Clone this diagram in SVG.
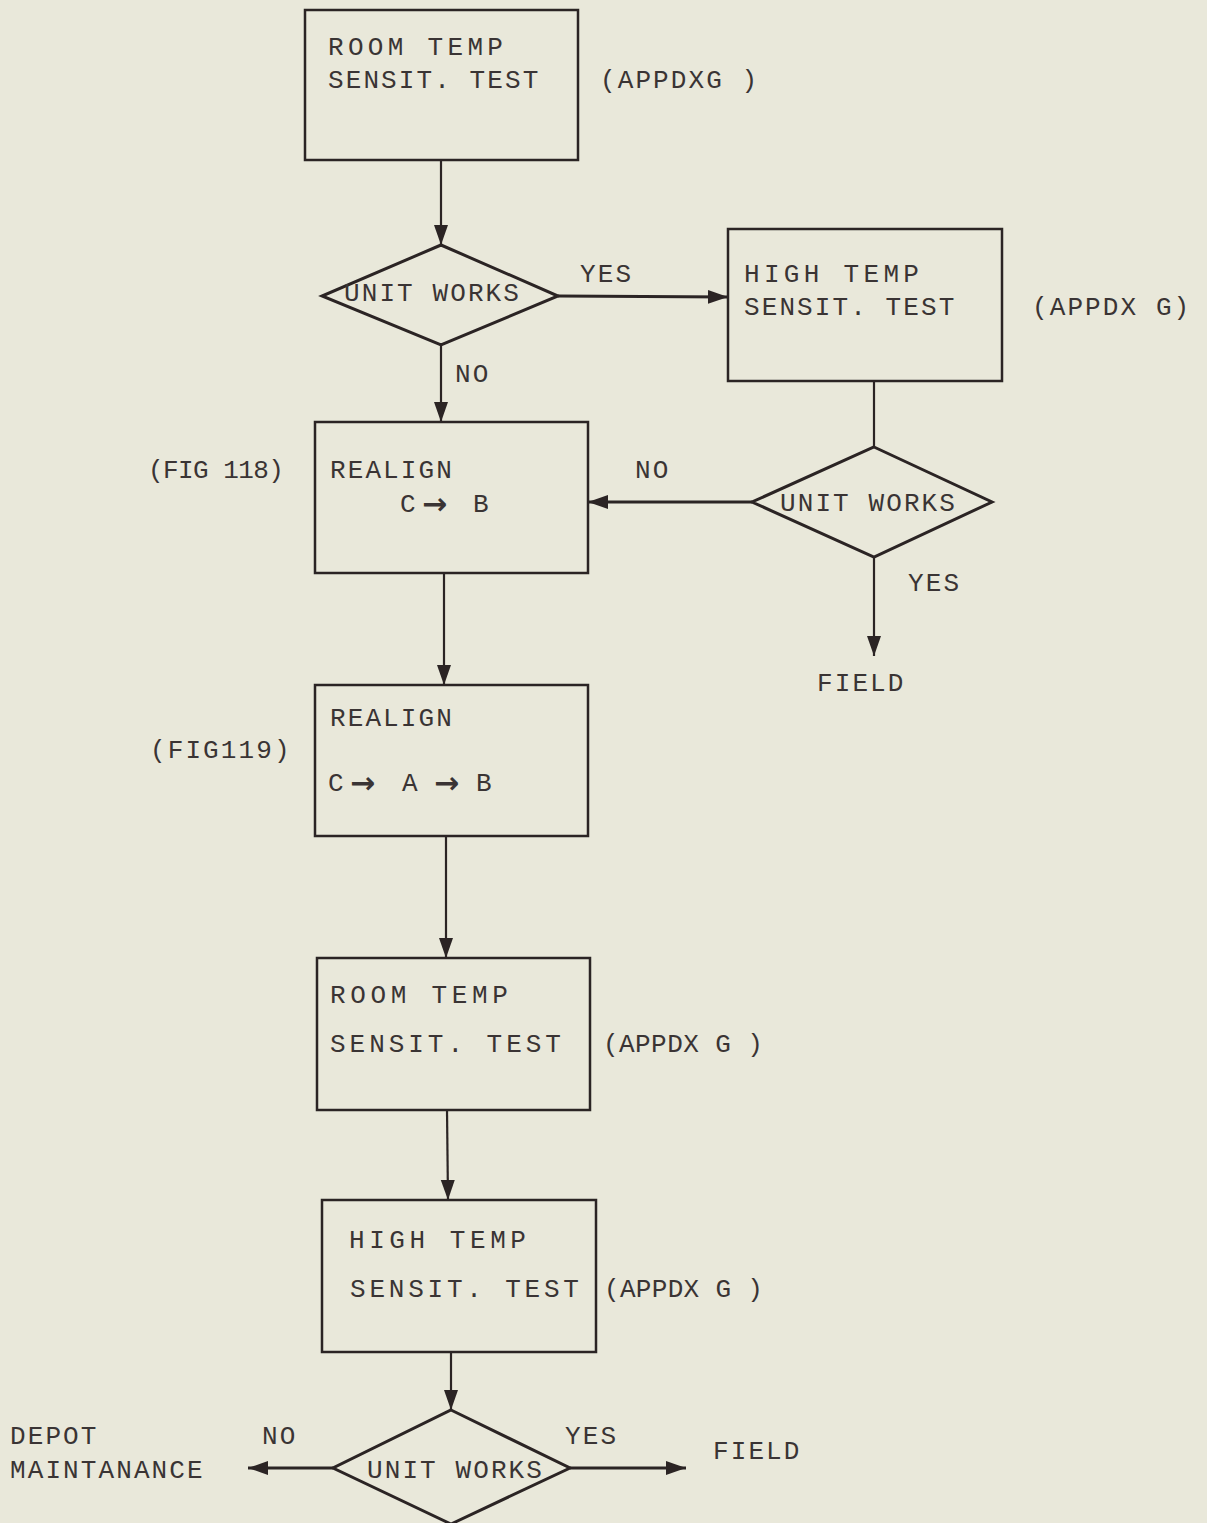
<svg xmlns="http://www.w3.org/2000/svg" width="1207" height="1523" viewBox="0 0 1207 1523" xml:space="preserve">
<style>
  .bg { fill: #e9e8da; }
  .box { fill: none; stroke: #2b2424; stroke-width: 2.5; }
  .dia { fill: none; stroke: #2b2424; stroke-width: 3; stroke-linejoin: miter; }
  .con { fill: none; stroke: #2b2424; stroke-width: 2.2; }
  .conb { fill: none; stroke: #2b2424; stroke-width: 3; }
  text { font-family: "Liberation Mono", "DejaVu Sans Mono", monospace; font-size: 26px; fill: #3a3434; letter-spacing: 2.1px; }
  .arr { font-family: "DejaVu Sans", sans-serif; font-size: 30px; letter-spacing: 0; font-weight: bold; }
</style>
<defs>
  <marker id="ah" viewBox="0 0 20 16" refX="20" refY="8" markerWidth="20" markerHeight="16" markerUnits="userSpaceOnUse" orient="auto">
    <path d="M0,1 L20,8 L0,15 Z" fill="#2b2424"/>
  </marker>
</defs>
<rect class="bg" x="0" y="0" width="1207" height="1523"/>

<g id="connectors">
  <line class="con" x1="441" y1="160" x2="441" y2="245" marker-end="url(#ah)"/>
  <line class="conb" x1="558" y1="296" x2="728" y2="297" marker-end="url(#ah)"/>
  <line class="con" x1="441" y1="345" x2="441" y2="422" marker-end="url(#ah)"/>
  <line class="con" x1="874" y1="381" x2="874" y2="447"/>
  <line class="conb" x1="752" y1="502" x2="588" y2="502" marker-end="url(#ah)"/>
  <line class="con" x1="874" y1="557" x2="874" y2="656" marker-end="url(#ah)"/>
  <line class="con" x1="444" y1="573" x2="444" y2="685" marker-end="url(#ah)"/>
  <line class="con" x1="446" y1="836" x2="446" y2="958" marker-end="url(#ah)"/>
  <line class="con" x1="447" y1="1110" x2="448" y2="1200" marker-end="url(#ah)"/>
  <line class="con" x1="451" y1="1352" x2="451" y2="1410" marker-end="url(#ah)"/>
  <line class="conb" x1="333" y1="1468" x2="248" y2="1468" marker-end="url(#ah)"/>
  <line class="conb" x1="570" y1="1468" x2="686" y2="1468" marker-end="url(#ah)"/>
</g>

<g id="room-temp-1">
  <rect class="box" x="305" y="10" width="273" height="150"/>
  <text x="328" y="55" textLength="177" lengthAdjust="spacing">ROOM  TEMP</text>
  <text x="328" y="88">SENSIT. TEST</text>
  <text x="600" y="88">(APPDXG )</text>
</g>

<g id="unit-works-1">
  <polygon class="dia" points="441,245 558,296 441,345 322,296"/>
  <text x="344" y="301">UNIT WORKS</text>
  <text x="580" y="282">YES</text>
  <text x="455" y="382">NO</text>
</g>

<g id="high-temp-1">
  <rect class="box" x="728" y="229" width="274" height="152"/>
  <text x="744" y="282" textLength="177" lengthAdjust="spacing">HIGH  TEMP</text>
  <text x="744" y="315">SENSIT. TEST</text>
  <text x="1032" y="315">(APPDX G)</text>
</g>

<g id="unit-works-2">
  <polygon class="dia" points="874,447 992,502 874,557 752,502"/>
  <text x="780" y="511">UNIT WORKS</text>
  <text x="635" y="478">NO</text>
  <text x="908" y="591">YES</text>
</g>

<g id="field-1">
  <text x="817" y="691">FIELD</text>
</g>

<g id="realign-1">
  <rect class="box" x="315" y="422" width="273" height="151"/>
  <text x="148" y="478" textLength="138" lengthAdjust="spacing">(FIG 118)</text>
  <text x="330" y="478">REALIGN</text>
  <text y="512"><tspan x="400">C</tspan><tspan class="arr" x="422" y="514">→</tspan><tspan x="473" y="512">B</tspan></text>
</g>

<g id="realign-2">
  <rect class="box" x="315" y="685" width="273" height="151"/>
  <text x="330" y="726">REALIGN</text>
  <text x="150" y="758">(FIG119)</text>
  <text y="791"><tspan x="328">C</tspan><tspan class="arr" x="350" y="793">→</tspan><tspan x="402" y="791">A</tspan><tspan class="arr" x="434" y="793">→</tspan><tspan x="476" y="791">B</tspan></text>
</g>

<g id="room-temp-2">
  <rect class="box" x="317" y="958" width="273" height="152"/>
  <text x="330" y="1003" textLength="180" lengthAdjust="spacing">ROOM  TEMP</text>
  <text x="330" y="1052" textLength="233" lengthAdjust="spacing">SENSIT.  TEST</text>
  <text x="603" y="1052" textLength="162" lengthAdjust="spacing">(APPDX G )</text>
</g>

<g id="high-temp-2">
  <rect class="box" x="322" y="1200" width="274" height="152"/>
  <text x="349" y="1248" textLength="179" lengthAdjust="spacing">HIGH  TEMP</text>
  <text x="350" y="1297" textLength="231" lengthAdjust="spacing">SENSIT.  TEST</text>
  <text x="604" y="1297" textLength="161" lengthAdjust="spacing">(APPDX G )</text>
</g>

<g id="unit-works-3">
  <polygon class="dia" points="451,1410 570,1468 451,1524 333,1468"/>
  <text x="367" y="1478">UNIT WORKS</text>
  <text x="262" y="1444">NO</text>
  <text x="565" y="1444">YES</text>
</g>

<g id="depot">
  <text x="10" y="1444">DEPOT</text>
  <text x="10" y="1478">MAINTANANCE</text>
</g>

<g id="field-2">
  <text x="713" y="1459">FIELD</text>
</g>
</svg>
